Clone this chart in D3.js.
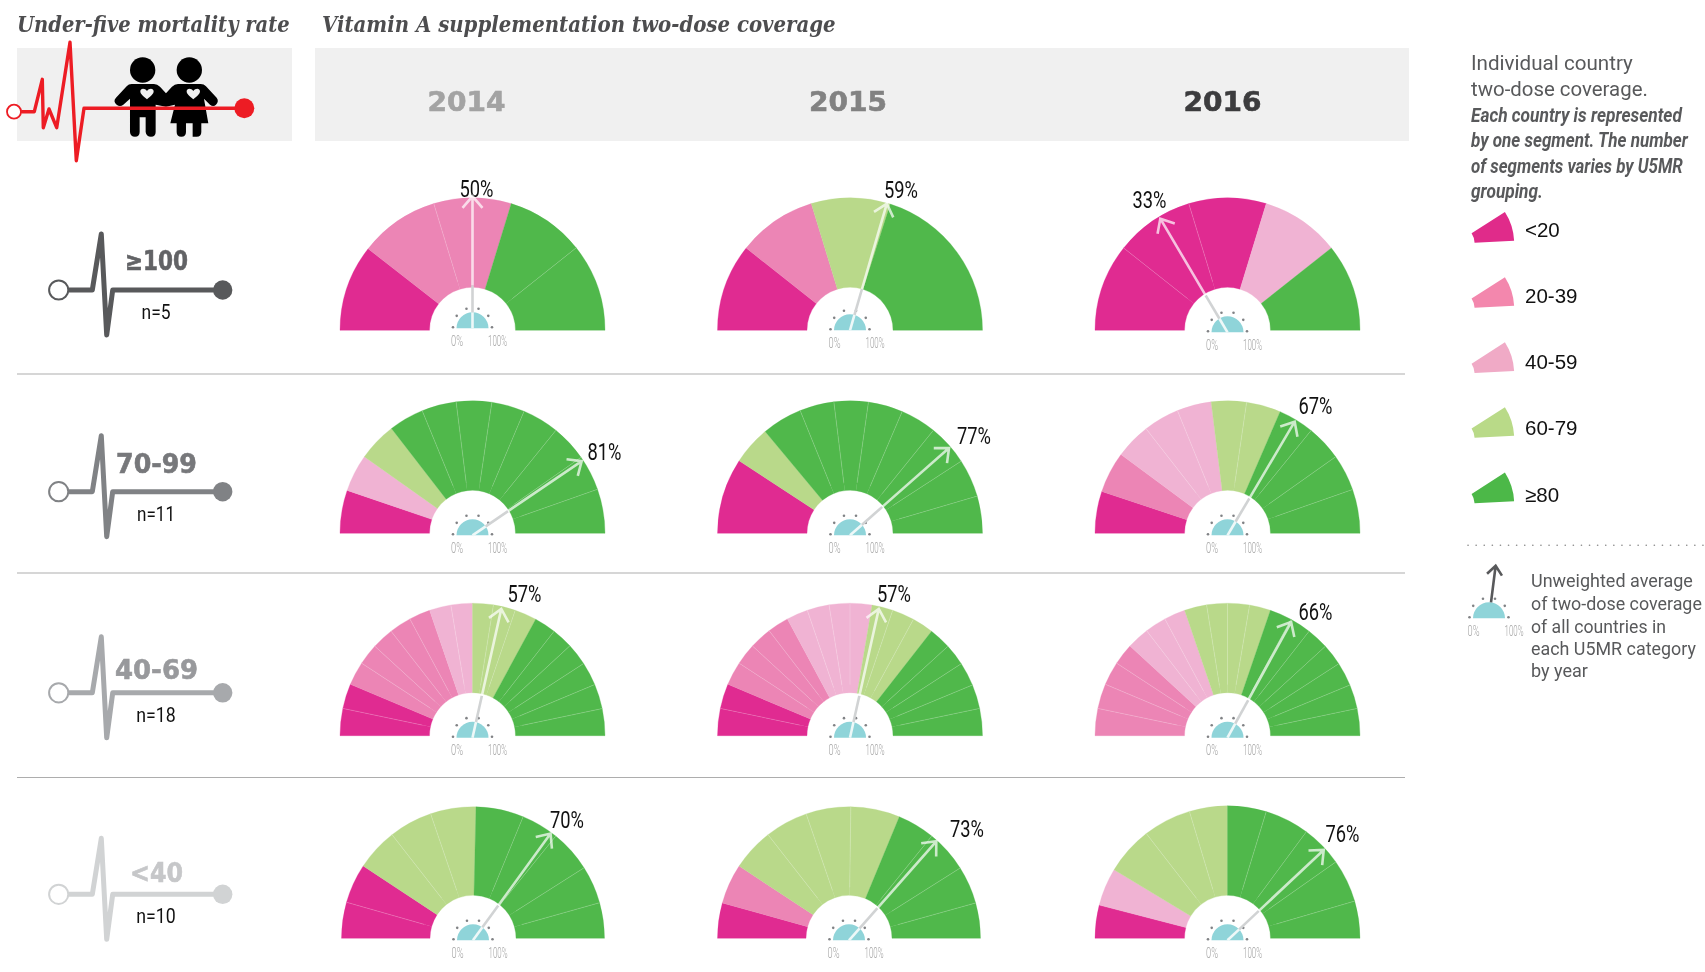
<!DOCTYPE html>
<html><head><meta charset="utf-8">
<script src="https://cdn.jsdelivr.net/npm/d3@7"></script>
<style>html,body{margin:0;padding:0;background:#fff;overflow:hidden}svg{display:block}</style>
</head><body><svg id="c" width="1705" height="972"></svg>
<script>
const years = ["2014","2015","2016"];
const groups = ["≥100","70-99","40-69","<40"];
const groupN = ["n=5","n=11","n=18","n=10"];
const categories = ["<20","20-39","40-59","60-79","≥80"];
const avg2014 = [50,81,57,70];
const avg2015 = [59,77,57,73];
const avg2016 = [33,67,66,76];
// category index of each segment, left to right
const cats2014 = [[0,1,1,4,4],[0,2,3,4,4,4,4,4,4,4,4],[0,0,1,1,1,1,1,2,2,3,3,3,4,4,4,4,4,4],[0,0,3,3,3,4,4,4,4,4]];
const cats2015 = [[0,1,3,4],[0,3,4,4,4,4,4,4,4,4],[0,0,1,1,1,1,2,2,2,2,3,3,3,4,4,4,4,4],[0,1,3,3,3,3,4,4,4,4]];
const cats2016 = [[0,0,0,2,4],[0,1,2,2,2,3,3,4,4,4,4],[1,1,1,1,2,2,2,3,3,3,3,4,4,4,4,4,4,4],[0,2,3,3,3,4,4,4,4,4]];
// where the segments meet on the half dial, read in degrees from the left
const edges2014 = [[38,73,107,141.5],[18.9,35.3,52.3,67.7,82.9,98.4,112.9,129,145,160.6],[11.9,22.8,33.2,42.5,52.1,61.8,71.1,80.6,90,99.1,108.8,118.5,128,137.3,147,157.3,168.2],[15.9,33.4,52,71.2,91.3,112.4,129,147.6,164.3]];
const edges2015 = [[38.4,73,107.7],[33.2,50.2,67.9,83,98,113.2,129,147,163.7],[11.9,22.8,33.2,42.6,52.4,61.8,71.2,80.9,90,99.6,108.8,118.6,128,137.6,147.1,157.5,168.1],[15.6,33.3,52,71,90.8,112.5,129,147.7,164.4]];
const edges2016 = [[38.4,73,107,141.6],[18.4,36.5,52.1,67.8,82.9,98.3,113.4,129.1,144.7,160.7],[11.9,22.8,33.2,42.6,52.4,61.8,71.1,80.9,90,99.6,108.9,118.6,128,137.6,147.1,157.5,168.1],[14.5,31.1,52.2,73.3,90,107,126.5,144.8,163.7]];
const legendAverageValue = 54;

const allAvg=[avg2014,avg2015,avg2016], allCats=[cats2014,cats2015,cats2016], allEdges=[edges2014,edges2015,edges2016];

// style and layout
const colors=["#e02b91","#ec85b5","#f0b3d3","#b9d98a","#50b84b"];
const legendColors=["#e02b8a","#f387ad","#f0aac6","#b9da88","#4cb848"];
const groupColors=["#58595b","#808285","#a7a9ac","#d1d3d4"];
const groupTextColors=["#626366","#77787b","#98999c","#c6c7c9"];
const yearColors=["#a3a3a3","#828282","#3c3c3e"];
const labelDx=[[4,51,-78],[132,124,88],[52,44,88],[94,118,115]];
const labelDy=[[142,141,131],[82,98,128],[142,142,124],[119,110,105]];
const dialDy=[[-2,0,2],[2,2,2],[2,2,2],[2,2,2]];
const NARROW="Roboto,'Liberation Sans',sans-serif";
const SANS="Roboto,'Liberation Sans',sans-serif";

const x=d3.scalePoint().domain(years).range([472.5,1227.5]);
const y=d3.scaleOrdinal().domain(groups).range([330.3,533.3,735.7,938.3]);
const rowMid=d3.scaleOrdinal().domain(groups).range([290,491.7,692.8,894.3]);
const turn=d3.scaleLinear().domain([0,100]).range([-90,90]);
const RI=43,DIAL=16,ARROW=132;
const svg=d3.select("#c");
// set the text, then squeeze it horizontally to the width it has in the picture
function fit(s,t,len){
  s.text(t);
  const w=s.node().getComputedTextLength();
  const px=+s.attr("x"),py=+s.attr("y");
  s.attr("x",0).attr("y",0).attr("transform",`translate(${px},${py}) scale(${len/w},1)`);
  return s;
}
function attrs(s,o){for(const k in o)s.attr(k,o[k]);return s;}

// header
svg.append("rect").attr("x",17).attr("y",48).attr("width",275).attr("height",93).attr("fill","#f0f0f0");
svg.append("rect").attr("x",315).attr("y",48).attr("width",1094).attr("height",93).attr("fill","#f0f0f0");
const titleFont={"font-family":"'DejaVu Serif',serif","font-weight":700,"font-style":"italic","font-size":22,fill:"#4d4d4f"};
fit(attrs(svg.append("text").attr("x",17).attr("y",31.5),titleFont),"Under-five mortality rate",273);
fit(attrs(svg.append("text").attr("x",322).attr("y",31.5),titleFont),"Vitamin A supplementation two-dose coverage",514);
const yearShift=[-6,-2,-5];
years.forEach((yr,i)=>{
  fit(svg.append("text").attr("x",x(yr)+yearShift[i]).attr("y",111).attr("text-anchor","middle")
    .attr("font-family","'DejaVu Sans',sans-serif").attr("font-weight",700).attr("font-size",26)
    .attr("stroke",yearColors[i]).attr("stroke-width",0.6)
    .attr("fill",yearColors[i]),yr,78);
});

// children icon
const kids=svg.append("g").attr("transform","scale(0.3333)").attr("fill","#000");
kids.append("circle").attr("cx",428).attr("cy",210).attr("r",38);
kids.append("circle").attr("cx",568).attr("cy",210).attr("r",38);
kids.append("path").attr("d","M395,252H462Q472,252 480,260L498,280L516,260Q524,252 534,252H602Q612,252 618,259L650,293Q658,303 648,314Q640,322 630,314L612,296L625,370H604V396Q604,410 590,410H578Q578,410 578,396V370H558V396Q558,410 544,410Q530,410 530,396V370H511L525,314L498,320L467,314V396Q467,410 453,410Q439,410 437,396V352H419V396Q419,410 405,410Q391,410 390,396V296L370,314Q360,322 350,314Q338,304 348,293L380,259Q386,252 395,252Z");
const heart="M0,16C-12,6 -20,0 -20,-8C-20,-18 -6,-18 0,-9C6,-18 20,-18 20,-8C20,0 12,6 0,16Z";
kids.append("path").attr("d",heart).attr("transform","translate(441,282)").attr("fill","#f0f0f0");
kids.append("path").attr("d",heart).attr("transform","translate(580,282)").attr("fill","#f0f0f0");

// red pulse
const redPulseX=[22,34.3,42.3,43.3,49,56.7,70,76.3,84,244];
const redPulseY=[111.7,111.7,79.3,127.7,109,127.7,42.3,160.7,108.3,108.3];
svg.append("path").attr("d",d3.line()(redPulseX.map((v,i)=>[v,redPulseY[i]]))).attr("fill","none").attr("stroke","#ed1c24").attr("stroke-width",3.4).attr("stroke-linejoin","round").attr("stroke-linecap","round");
svg.append("circle").attr("cx",14).attr("cy",111.7).attr("r",7).attr("fill","#fff").attr("stroke","#ed1c24").attr("stroke-width",1.8);
svg.append("circle").attr("cx",244.3).attr("cy",108.3).attr("r",10).attr("fill","#ed1c24");

// row labels
const pulseX=[58.7,92.3,101.3,106.7,112.7,222.7];
const pulseDy=[0,0,-56,45,0,0];
const groupWidth=[63,81,83,53], nWidth=[29,38,39.5,39.5], groupTextDy=[-30,-28,-23.4,-21.8], nDy=[22,22.3,21.9,21.5];
groups.forEach((g,i)=>{
  const m=rowMid(g), c=groupColors[i];
  svg.append("path").attr("d",d3.line()(pulseX.map((v,k)=>[v,m+pulseDy[k]]))).attr("fill","none").attr("stroke",c).attr("stroke-width",5).attr("stroke-linejoin","round");
  svg.append("circle").attr("cx",58.7).attr("cy",m).attr("r",9.6).attr("fill","#fff").attr("stroke",c).attr("stroke-width",2);
  svg.append("circle").attr("cx",222.7).attr("cy",m).attr("r",9.7).attr("fill",c);
  fit(svg.append("text").attr("x",156.5).attr("y",m+groupTextDy[i]).attr("dy","0.37em").attr("text-anchor","middle")
    .attr("font-family","'DejaVu Sans',sans-serif").attr("font-weight",700).attr("font-size",26)
    .attr("stroke",groupTextColors[i]).attr("stroke-width",0.6).attr("fill",groupTextColors[i]),g,groupWidth[i]);
  fit(svg.append("text").attr("x",156).attr("y",m+nDy[i]).attr("dy","0.36em").attr("text-anchor","middle")
    .attr("font-family",NARROW).attr("font-size",20).attr("fill","#111"),groupN[i],nWidth[i]);
});
// separators
[374,573,777.5].forEach(v=>svg.append("line").attr("x1",17).attr("x2",1405).attr("y1",v).attr("y2",v).attr("stroke","#adadad").attr("stroke-width",1));

const pie=d3.pie().sort(null).startAngle(-Math.PI/2).endAngle(Math.PI/2).value(d=>d.span);
const dialArc=d3.arc().innerRadius(0).outerRadius(DIAL).startAngle(-Math.PI/2).endAngle(Math.PI/2);

function dialParts(g){
  g.append("path").attr("d",dialArc).attr("fill","#8fd4d9");
  d3.range(6).forEach(k=>{
    const a=Math.PI*k/5;
    g.append("circle").attr("cx",-19.5*Math.cos(a)).attr("cy",-19.5*Math.sin(a)-1).attr("r",1.3).attr("fill","#808285");
  });
  [["0%",-15.5,12],["100%",25,19]].forEach(([t,dx,w])=>{
    fit(g.append("text").attr("x",dx).attr("y",17.5).attr("text-anchor","middle")
      .attr("font-family",NARROW).attr("font-size",15).attr("font-weight",300).attr("fill","#a3a3a3"),t,w);
  });
}

years.forEach((yr,c)=>{
  groups.forEach((grp,r)=>{
    const cx=x(yr)+((r===3&&c===0)?0.5:(r===3&&c===1)?-1:0), cy=y(grp);
    const R=(r===3&&c<2)?131.5:132.5;
    const edges=[0,...allEdges[c][r],180];
    const segs=d3.pairs(edges).map((p,i)=>({span:p[1]-p[0],cat:allCats[c][r][i]}));
    const arcs=pie(segs);
    const arc=d3.arc().innerRadius(RI).outerRadius(R);
    const g=svg.append("g").attr("transform",`translate(${cx},${cy})`);
    g.selectAll("path.seg").data(arcs).join("path").attr("class","seg").attr("d",arc).attr("fill",d=>colors[d.data.cat]).attr("stroke",d=>colors[d.data.cat]).attr("stroke-width",0.3);
    // hairlines between countries of the same band
    arcs.forEach((a,i)=>{
      if(i===0||arcs[i-1].data.cat!==a.data.cat) return;
      const t=a.startAngle;
      g.append("line").attr("x1",(RI+8)*Math.sin(t)).attr("y1",-(RI+8)*Math.cos(t)).attr("x2",R*Math.sin(t)).attr("y2",-R*Math.cos(t))
        .attr("stroke","#fff").attr("stroke-opacity",0.32).attr("stroke-width",0.6);
    });
    // hub
    const d=svg.append("g").attr("transform",`translate(${cx},${cy+dialDy[r][c]})`);
    dialParts(d);
    const v=allAvg[c][r];
    const rot=turn(v);
    const arrow=d.append("g").attr("transform",`rotate(${rot})`).attr("fill","none").attr("stroke-width",2.6);
    arrow.append("line").attr("y1",0).attr("y2",-DIAL).attr("stroke","#eef8f8");
    arrow.append("line").attr("y1",-DIAL).attr("y2",-RI).attr("stroke","#d1d3d4");
    const over=arrow.append("g").style("mix-blend-mode","screen").attr("stroke","#b4b4b4");
    over.append("path").attr("d",`M0,${-RI}V${-ARROW}M-10,${-ARROW+11.5}L0,${-ARROW}L10,${-ARROW+11.5}`);
    fit(g.append("text").attr("x",labelDx[r][c]).attr("y",-labelDy[r][c]).attr("dy","0.36em").attr("text-anchor","middle")
      .attr("font-family",NARROW).attr("font-size",23).attr("fill","#111"),v+"%",34);
  });
});

// legend
const legText=(t,x0,b,w,o)=>fit(attrs(svg.append("text").attr("x",x0).attr("y",b),o),t,w);
const l1={"font-family":SANS,"font-size":19.5,fill:"#58595b"};
legText("Individual country",1471,70,162,l1);
legText("two-dose coverage.",1471,96,177,l1);
const l2={"font-family":NARROW,"font-size":19.5,"font-style":"italic","font-weight":700,fill:"#58595b"};
legText("Each country is represented",1471,121.7,211,l2);
legText("by one segment. The number",1471,147,217,l2);
legText("of segments varies by U5MR",1471,172.7,212,l2);
legText("grouping.",1471,198,72,l2);
const wedge=d3.arc().innerRadius(19).outerRadius(58.6).startAngle(57.3*Math.PI/180).endAngle(87.1*Math.PI/180);
const legY=[243.6,308.8,374,438.8,504.2];
const legB=[237,303,368.5,434.7,502];
categories.forEach((t,i)=>{
  svg.append("path").attr("d",wedge).attr("transform",`translate(1455.6,${legY[i]})`).attr("fill",legendColors[i]);
  svg.append("text").attr("x",1525).attr("y",legB[i]).attr("font-family","'Liberation Sans',sans-serif").attr("font-size",20.5).attr("fill","#111").text(t);
});
svg.append("line").attr("x1",1468).attr("x2",1705).attr("y1",545.3).attr("y2",545.3).attr("stroke","#8c8c8c").attr("stroke-width",1.6).attr("stroke-linecap","round").attr("stroke-dasharray","0.1 8");
const mini=svg.append("g").attr("transform","translate(1489,618.3)");
dialParts(mini);
const ma=mini.append("g").attr("transform",`rotate(${turn(legendAverageValue)})`).attr("fill","none").attr("stroke","#58595b").attr("stroke-width",2.6);
ma.append("path").attr("d","M0,-16V-53M-7.5,-44L0,-53L7.5,-44");
const l3={"font-family":SANS,"font-size":17.5,fill:"#58595b"};
[["Unweighted average",586.7,162],["of two-dose coverage",610,171],["of all countries in",632.7,135],["each U5MR category",655,165],["by year",677.3,57]].forEach(([t,b,w])=>legText(t,1531,b,w,l3));
</script></body></html>
